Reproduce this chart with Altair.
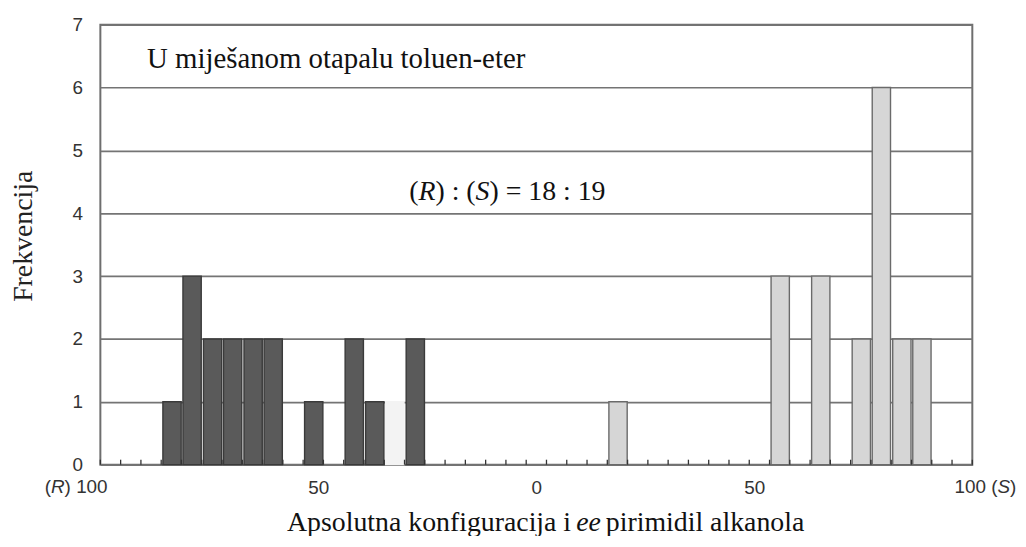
import altair as alt
import pandas as pd

# ---- data ----
BIN_WIDTH = 200 / 43  # 43 equal bins spanning (R) 100 ... (S) 100

# signed ee: negative = (R), positive = (S); lower edge of each bin
R_BIN_START = [-86.0, -81.4, -76.7, -72.1, -67.4, -62.8, -53.5, -44.2, -39.5, -30.2]
R_FREQ = [1, 3, 2, 2, 2, 2, 1, 2, 1, 2]
PALE_BIN_START = [-34.9]
PALE_FREQ = [1]
S_BIN_START = [16.3, 53.5, 62.8, 72.1, 76.7, 81.4, 86.0]
S_FREQ = [1, 3, 3, 2, 6, 2, 2]

Y_TICKS = [0, 1, 2, 3, 4, 5, 6, 7]
X_TICKS = [-50, 0, 50]
X_DOMAIN = [-100, 100]

W, H = 878, 443
SERIF = "Liberation Serif"
SANS = "Liberation Sans"

rows = []
for lo, f in zip(R_BIN_START, R_FREQ):
    rows.append({"lo": lo, "hi": lo + BIN_WIDTH, "freq": f, "kind": "R"})
for lo, f in zip(PALE_BIN_START, PALE_FREQ):
    rows.append({"lo": lo, "hi": lo + BIN_WIDTH, "freq": f, "kind": "pale"})
for lo, f in zip(S_BIN_START, S_FREQ):
    rows.append({"lo": lo, "hi": lo + BIN_WIDTH, "freq": f, "kind": "S"})
bars_df = pd.DataFrame(rows)

edges_df = pd.DataFrame({"e": [X_DOMAIN[0] + k * BIN_WIDTH for k in range(44)]})

x_scale = alt.Scale(domain=X_DOMAIN, nice=False, zero=False)
x_axis = alt.Axis(values=X_TICKS, labelExpr="format(abs(datum.value), 'd')", title=None,
                  grid=False, domain=False, ticks=False, labelPadding=14,
                  labelFont=SANS, labelFontSize=19, labelColor="#333333")
y_axis = alt.Axis(values=Y_TICKS, title=None, grid=True, gridColor="#747474", gridWidth=1.7,
                  domain=False, ticks=False, tickSize=0, labelPadding=18,
                  labelFont=SANS, labelFontSize=19, labelColor="#333333")

kinds = ["R", "pale", "S"]
bars = alt.Chart(bars_df).mark_bar(binSpacing=2, strokeWidth=1.4).encode(
    x=alt.X("lo:Q", bin="binned", scale=x_scale, axis=x_axis),
    x2="hi:Q",
    y=alt.Y("freq:Q", scale=alt.Scale(domain=[0, 7], nice=False), axis=y_axis),
    fill=alt.Fill("kind:N", scale=alt.Scale(domain=kinds, range=["#5a5a5a", "#f3f3f3", "#d6d6d6"]), legend=None),
    stroke=alt.Stroke("kind:N", scale=alt.Scale(domain=kinds, range=["#3a3a3a", "#f3f3f3", "#6a6a6a"]), legend=None),
)

ticks = alt.Chart(edges_df).mark_rule(color="#333333", strokeWidth=1.3).encode(
    x=alt.X("e:Q", scale=x_scale, axis=x_axis),
    y=alt.value(H),
    y2=alt.value(H - 5),
)


def txt(s, x, y, size, font=SERIF, style="normal", align="left", angle=0, color="#111111", baseline="alphabetic"):
    kw = dict(align=align, baseline=baseline, font=font, fontSize=size, fontStyle=style, color=color)
    if angle:
        kw["angle"] = angle
    return alt.Chart(pd.DataFrame({"s": [s]})).mark_text(**kw).encode(
        x=alt.value(x), y=alt.value(y), text="s:N"
    )


texts = [
    txt("U mije\u0161anom otapalu toluen-eter", 47, 44, 29),
    # (R) : (S) = 18 : 19
    txt("(", 311, 176, 28),
    txt("R", 320.3, 176, 28, style="italic"),
    txt(") : (", 337.4, 176, 28),
    txt("S", 377.8, 176, 28, style="italic"),
    txt(") = 18 : 19", 391.8, 176, 28),
    # y title
    txt("Frekvencija", -77, 213, 28, angle=270, baseline="middle", align="center", color="#222222"),
    # x title
    txt("Apsolutna konfiguracija i", 474, 510, 28, align="right"),
    txt("ee", 491.5, 510, 28, style="italic", align="center"),
    txt("pirimidil alkanola", 509, 510, 28),
    # end labels of the x axis
    txt("(", -56, 472, 19, font=SANS, color="#333333"),
    txt("R", -49.7, 472, 19, font=SANS, style="italic", color="#333333"),
    txt(") 100", -36, 472, 19, font=SANS, color="#333333"),
    txt("100 (", 860, 472, 19, font=SANS, color="#333333"),
    txt("S", 903.3, 472, 19, font=SANS, style="italic", color="#333333"),
    txt(")", 916, 472, 19, font=SANS, color="#333333"),
]

chart = alt.layer(bars, ticks, *texts).properties(
    width=W, height=H,
    padding={"left": 93, "top": 15, "right": 46, "bottom": 70},
    autosize=alt.AutoSizeParams(type="none"),
).configure_view(stroke="#6e6e6e", strokeWidth=2)

chart.save("out.html", embed_options={"renderer": "svg", "actions": False})
